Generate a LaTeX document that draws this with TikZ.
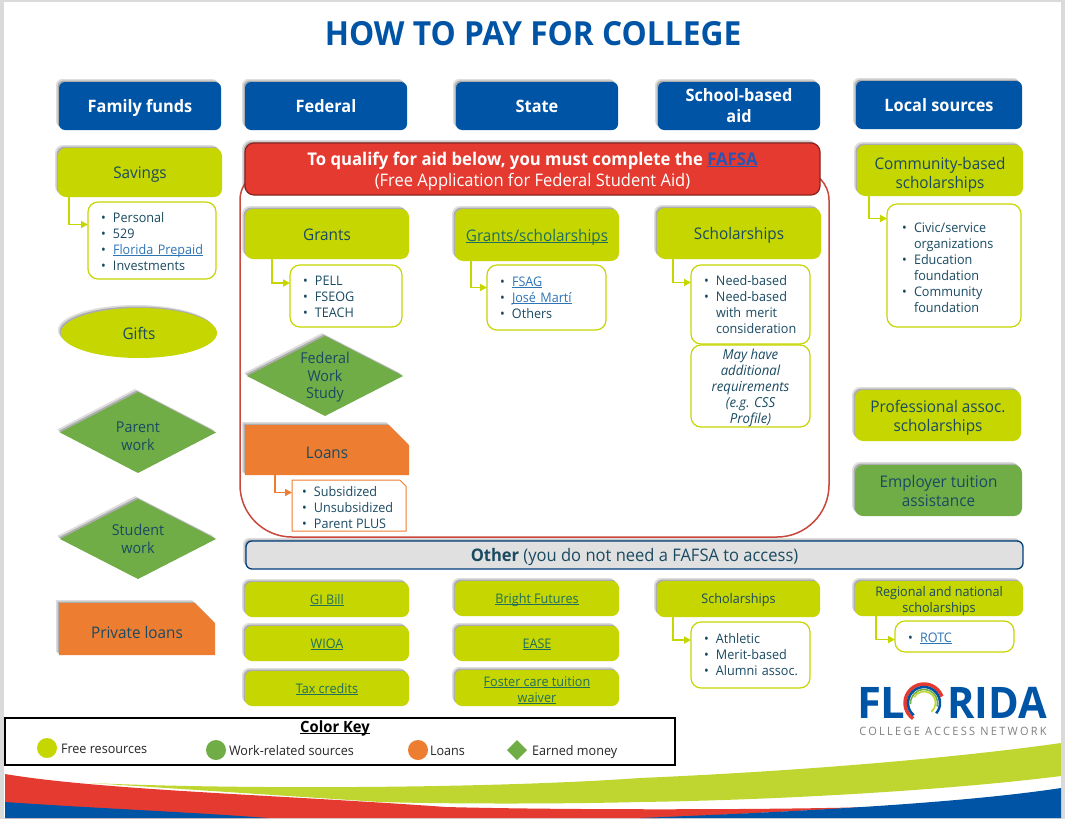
\documentclass[tikz,border=0pt]{standalone}
\usepackage{fontspec}
\setmainfont[FakeStretch=0.955]{Open Sans}
\usetikzlibrary{shapes.geometric,shapes.misc,arrows.meta,shadows,calc}
\definecolor{navy}{HTML}{0054A6}
\definecolor{lime}{HTML}{C5D600}
\definecolor{wgreen}{HTML}{70AD47}
\definecolor{orng}{HTML}{ED7D31}
\definecolor{redbar}{HTML}{E53A30}
\definecolor{redline}{HTML}{C9483D}
\definecolor{ink}{HTML}{1A4A62}
\definecolor{linkb}{HTML}{2E75B6}
\definecolor{linkg}{HTML}{1F6F5C}
\definecolor{linkf}{HTML}{2B55B0}
\definecolor{swgreen}{HTML}{BFD630}
\definecolor{pagegray}{HTML}{DADADA}
\newcommand\ulx[1]{\sbox0{#1}\rlap{#1}\rule[-1.5pt]{\wd0}{.7pt}}
\newcommand\bl[1]{\mbox{\makebox[12pt][l]{•}#1}}
\newcommand\cont[1]{\mbox{\hspace*{12pt}#1}}
\newcommand\st{\rule{0pt}{1em}}
\newcommand\sts{\rule{0pt}{.88em}}
\newcommand\lk[1]{\textcolor{linkb}{\ulx{#1}}}
\newcommand\lkg[1]{\textcolor{linkg}{\ulx{#1}}}
% box by pixel corners: [strut height], style, name, x1, y1, x2, y2, text
\newcommand\bx[8][1em]{%
  \pgfmathsetmacro\bxw{#6-#4}\pgfmathsetmacro\bxh{#7-#5}%
  \node[#2,minimum width=\bxw pt,minimum height=\bxh pt] (#3) at ({(#4+#6)/2},{(#5+#7)/2}) {\rule[-.25em]{0pt}{\dimexpr#1+.25em\relax}#8};}
% list box with left padding: style, name, x1, y1, x2, y2, pad, text
\newcommand\lst[8]{%
  \pgfmathsetmacro\bxw{#5-#3}\pgfmathsetmacro\bxh{#6-#4}\pgfmathsetmacro\bxt{#5-#3-2*#7}%
  \node[#1,minimum width=\bxw pt,minimum height=\bxh pt,text width=\bxt pt,inner xsep=#7 pt] (#2) at ({(#3+#5)/2},{(#4+#6)/2}) {#8};}
\tikzset{
  base/.style={inner sep=0pt,outer sep=0pt,align=center},
  softshadow/.style={general shadow={fill=black!60,shadow xshift=-3pt,shadow yshift=3pt,opacity=.22},general shadow={fill=black!60,shadow xshift=-1.5pt,shadow yshift=1.5pt,opacity=.4}},
  head/.style={base,softshadow,fill=navy,rounded corners=6pt,text=white,font=\fontsize{17.1}{21}\selectfont\bfseries},
  free/.style={base,softshadow,fill=lime,rounded corners=8pt,text=ink,font=\fontsize{16}{19}\selectfont},
  freesm/.style={base,softshadow,fill=lime,rounded corners=7pt,text=ink,font=\fontsize{13.2}{16}\selectfont},
  work/.style={base,softshadow,fill=wgreen,rounded corners=8pt,text=ink,font=\fontsize{16}{19}\selectfont},
  gem/.style={base,softshadow,fill=wgreen,diamond,aspect=2,text=ink,font=\fontsize{15}{18}\selectfont},
  gemtext/.style={base,text=ink,font=\fontsize{15}{17.5}\selectfont},
  oval/.style={base,softshadow,fill=lime,ellipse,text=ink,font=\fontsize{16}{19}\selectfont},
  snip/.style={base,softshadow,fill=orng,chamfered rectangle,chamfered rectangle corners=north east,chamfered rectangle xsep=10pt,chamfered rectangle ysep=10pt,text=ink,font=\fontsize{16}{19}\selectfont},
  listbox/.style={base,draw=lime,line width=1.2pt,fill=white,rounded corners=10pt,text=ink,align=left,font=\fontsize{13.2}{16}\selectfont},
  notebox/.style={base,draw=lime,line width=1.2pt,fill=white,rounded corners=10pt,text=ink,font=\fontsize{13.8}{16}\selectfont\itshape},
  sniplist/.style={base,draw=orng,line width=1pt,fill=white,chamfered rectangle,chamfered rectangle corners=north east,chamfered rectangle xsep=7pt,chamfered rectangle ysep=7pt},
  listtext/.style={base,anchor=west,text=ink,align=left,font=\fontsize{13.2}{16}\selectfont},
  conn/.style={draw=lime,line width=1.8pt,-{Triangle[length=7pt,width=7pt]}},
  connor/.style={draw=orng,line width=1.5pt,-{Triangle[length=7pt,width=7pt]}},
  keylabel/.style={base,anchor=base west,text=black!85,font=\fontsize{13.2}{16}\selectfont},
}
\begin{document}
\begin{tikzpicture}[x=1pt,y=-1pt]
\useasboundingbox (0,0) rectangle (1065,819);
\fill[pagegray] (0,0) rectangle (1065,819);
\fill[white] (4,2) rectangle (1061,818);
% swooshes
\fill[swgreen] (90,783) .. controls (250,790) and (500,788) .. (640,778) .. controls (780,772) and (940,760) .. (1061,743) -- (1061,776) .. controls (950,790) and (780,800) .. (640,802) .. controls (560,804) and (450,804) .. (380,802) -- cycle;
\fill[redbar] (5,774) .. controls (100,790) and (280,795) .. (446,807) .. controls (560,810) and (760,810) .. (873,807) -- (660,818) -- (5,818) -- cycle;
\fill[navy] (5,802) .. controls (90,808) and (190,812) .. (268,818) -- (5,818) -- cycle;
\fill[navy] (640,818) .. controls (760,813) and (950,805) .. (1061,788) -- (1061,818) -- cycle;
% title
\node[base,text=navy,font=\fontsize{33.2}{36}\selectfont\bfseries] (title) at (533,34) {HOW TO PAY FOR COLLEGE};
% headers
\bx{head}{hfam}{59}{82}{221}{130}{Family funds}
\bx{head}{hfed}{245}{82}{407}{130}{Federal}
\bx{head}{hsta}{456}{82}{618}{130}{State}
\bx[.76em]{head}{hsch}{658}{82}{820}{130}{School-based\\aid}
\bx{head}{hloc}{856}{81}{1022}{129}{Local sources}
% big outline and banner
\draw[redline,line width=1.5pt] (240,400) [rounded corners=30pt] -- (240,170) -- (829,170) -- (829,400) [rounded corners=52pt] -- (829,537) -- (240,537) -- cycle;
\bx[1.05em]{base,softshadow,fill=redbar,draw=redbar!60!black,line width=1.2pt,rounded corners=9pt,text=white,font=\fontsize{17.3}{21}\selectfont}{fafsa}{245}{143}{820}{195}{{\fontsize{17.5}{21}\selectfont\bfseries To qualify for aid below, you must complete the \textcolor{linkf}{\ulx{FAFSA}}}\\(Free Application for Federal Student Aid)}
% family column
\bx{free}{sav}{58}{148}{222}{197}{Savings}
\lst{listbox}{savl}{88}{202}{216}{279}{13}{\sts\bl{Personal}\\\bl{529}\\\bl{\lk{Florida Prepaid}}\\\bl{Investments}}
\draw[conn] ([xshift=11pt]sav.south west) |- ([yshift=16pt]savl.west);
\bx{oval}{gifts}{61}{308}{217}{358}{Gifts}
\bx[1.2em]{gem}{pwork}{60}{392}{216}{473}{Parent\\work}
\bx[.8em]{gem}{swork}{60}{499}{216}{579}{Student\\work}
\bx[1.4em]{snip}{ploans}{59}{603}{215}{655}{Private loans}
% federal column
\bx{free}{grants}{245}{209}{409}{259}{Grants}
\lst{listbox}{grantl}{290}{265}{402}{327}{13}{\sts\bl{PELL}\\\bl{FSEOG}\\\bl{TEACH}}
\draw[conn] ([xshift=27pt]grants.south west) |- ([yshift=13pt]grantl.west);
\bx{gem}{fws}{247}{336}{403}{416}{}
\node[gemtext] (fwst) at (325,377.5) {Federal\\Work\\Study};
\bx[1.3em]{snip}{loans}{245}{425}{409}{475}{Loans}
\bx{sniplist}{loanl}{292}{480}{406}{531}{}
\node[listtext] (loant) at (302,508) {\bl{Subsidized}\\\bl{Unsubsidized}\\\bl{Parent PLUS}};
\draw[connor] ([xshift=30pt]loans.south west) |- ([yshift=13pt]loanl.west);
% state column
\bx{free}{gs}{455}{209}{619}{261}{\lkg{Grants/scholarships}}
\lst{listbox}{gsl}{487}{265}{606}{330}{13}{\bl{\lk{FSAG}}\\\bl{\lk{José Martí}}\\\bl{Others}}
\draw[conn] ([xshift=16pt]gs.south west) |- ([yshift=10pt]gsl.west);
% school column
\bx{free}{sch}{657}{208}{821}{259}{Scholarships}
\lst{listbox}{schl}{691}{265}{810}{344}{13}{\bl{Need-based}\\\bl{Need-based}\\\cont{with merit}\\\cont{consideration}}
\draw[conn] ([xshift=16pt]sch.south west) |- ([yshift=22pt]schl.west);
\bx[1.05em]{notebox}{note}{691}{345}{810}{427}{May have\\additional\\requirements\\(e.g. CSS\\Profile)}
% local column
\bx[1.25em]{free}{comm}{857}{145}{1023}{196}{Community-based\\scholarships}
\lst{listbox}{comml}{887}{204}{1021}{327}{15}{\st\bl{Civic/service}\\\cont{organizations}\\\bl{Education}\\\cont{foundation}\\\bl{Community}\\\cont{foundation}}
\draw[conn] ([xshift=12pt]comm.south west) |- ([yshift=47pt]comml.west);
\bx{free}{prof}{855}{390}{1021}{441}{Professional assoc.\\scholarships}
\bx[.76em]{work}{emp}{855}{465}{1022}{516}{Employer tuition\\assistance}
% other bar
\bx{base,softshadow,fill=black!12,draw=navy!75!black,line width=1.3pt,rounded corners=6pt,text=ink,font=\fontsize{17.3}{20}\selectfont}{other}{246}{541}{1023}{569}{\textbf{Other} (you do not need a FAFSA to access)}
% other items
\bx{freesm}{gi}{245}{582}{409}{617}{\lkg{GI Bill}}
\bx{freesm}{wioa}{245}{626}{409}{661}{\lkg{WIOA}}
\bx{freesm}{tax}{245}{671}{409}{706}{\lkg{Tax credits}}
\bx{freesm}{bright}{455}{581}{619}{616}{\lkg{Bright Futures}}
\bx{freesm}{ease}{455}{626}{619}{661}{\lkg{EASE}}
\bx[1.1em]{freesm}{foster}{455}{670}{619}{706}{\lkg{Foster care tuition}\\\lkg{waiver}}
\bx{freesm}{sch2}{657}{581}{820}{617}{Scholarships}
\lst{listbox}{sch2l}{691}{622}{810}{688}{13}{\bl{Athletic}\\\bl{Merit-based}\\\bl{Alumni assoc.}}
\draw[conn] ([xshift=16pt]sch2.south west) |- ([yshift=15pt]sch2l.west);
\bx[1.1em]{freesm}{reg}{855}{581}{1023}{616}{Regional and national\\scholarships}
\lst{listbox}{regl}{895}{621}{1014}{652}{13}{\st\bl{\lk{ROTC}}}
\draw[conn] ([xshift=21pt]reg.south west) |- ([yshift=-3pt]regl.west);
% colour key
\bx{base,draw=black,line width=1.2pt}{key}{5}{718}{675}{765}{}
\node[base,text=black,font=\fontsize{15.5}{18}\selectfont\bfseries] (keyt) at (335,728) {\ulx{Color Key}};
\node[base,circle,fill=lime,minimum size=20pt] (k1) at (47,748) {};
\node[keylabel] (k1t) at (61,753) {Free resources};
\node[base,circle,fill=wgreen,minimum size=20pt] (k2) at (216,750) {};
\node[keylabel] (k2t) at (229,755) {Work-related sources};
\node[base,circle,fill=orng,minimum size=20pt] (k3) at (418,750) {};
\node[keylabel] (k3t) at (430,755) {Loans};
\node[base,diamond,fill=wgreen,minimum size=20pt] (k4) at (517,750) {};
\node[keylabel] (k4t) at (532,755) {Earned money};
% logo
\node[base,anchor=base west,text=navy,xscale=1.05,font=\fontsize{43.5}{44}\selectfont\bfseries] (logof) at (857,718) {FL};
\node[base,anchor=base west,text=navy,font=\fontsize{43.5}{44}\selectfont\bfseries] (logor) at (947,718) {RIDA};
\coordinate (oc) at (924,703);
\draw[redbar,line width=3.5pt] (oc) ++(125:19) arc[start angle=125,end angle=340,radius=19];
\draw[navy,line width=2.5pt] (oc) ++(130:16) arc[start angle=130,end angle=400,radius=16];
\draw[wgreen,line width=1.6pt] (oc) ++(175:13.5) arc[start angle=175,end angle=375,radius=13.5];
\draw[swgreen,line width=1.6pt] (oc) ++(210:11.5) arc[start angle=210,end angle=410,radius=11.5];
\node[base,text=black!50,font=\fontsize{11.5}{11.5}\selectfont\addfontfeature{LetterSpace=20}] (logot) at (953,731) {COLLEGE ACCESS NETWORK};
\end{tikzpicture}
\end{document}
